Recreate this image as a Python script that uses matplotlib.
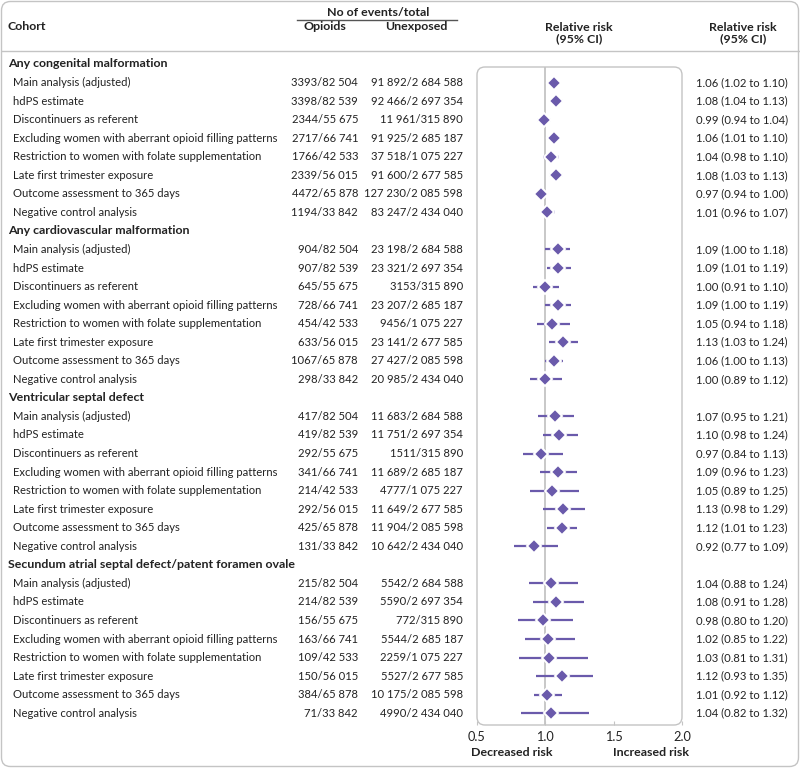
import matplotlib
matplotlib.use("Agg")
import matplotlib.pyplot as plt
from matplotlib import font_manager, transforms
from matplotlib.patches import FancyBboxPatch
from matplotlib.lines import Line2D

# ---------------- data ----------------
outcomes = [
    "Any congenital malformation",
    "Any cardiovascular malformation",
    "Ventricular septal defect",
    "Secundum atrial septal defect/patent foramen ovale",
]
analyses = [
    "Main analysis (adjusted)",
    "hdPS estimate",
    "Discontinuers as referent",
    "Excluding women with aberrant opioid filling patterns",
    "Restriction to women with folate supplementation",
    "Late first trimester exposure",
    "Outcome assessment to 365 days",
    "Negative control analysis",
]
opioids_events = [
    ["3393/82 504", "3398/82 539", "2344/55 675", "2717/66 741", "1766/42 533", "2339/56 015", "4472/65 878", "1194/33 842"],
    ["904/82 504", "907/82 539", "645/55 675", "728/66 741", "454/42 533", "633/56 015", "1067/65 878", "298/33 842"],
    ["417/82 504", "419/82 539", "292/55 675", "341/66 741", "214/42 533", "292/56 015", "425/65 878", "131/33 842"],
    ["215/82 504", "214/82 539", "156/55 675", "163/66 741", "109/42 533", "150/56 015", "384/65 878", "71/33 842"],
]
unexposed_events = [
    ["91 892/2 684 588", "92 466/2 697 354", "11 961/315 890", "91 925/2 685 187", "37 518/1 075 227", "91 600/2 677 585", "127 230/2 085 598", "83 247/2 434 040"],
    ["23 198/2 684 588", "23 321/2 697 354", "3153/315 890", "23 207/2 685 187", "9456/1 075 227", "23 141/2 677 585", "27 427/2 085 598", "20 985/2 434 040"],
    ["11 683/2 684 588", "11 751/2 697 354", "1511/315 890", "11 689/2 685 187", "4777/1 075 227", "11 649/2 677 585", "11 904/2 085 598", "10 642/2 434 040"],
    ["5542/2 684 588", "5590/2 697 354", "772/315 890", "5544/2 685 187", "2259/1 075 227", "5527/2 677 585", "10 175/2 085 598", "4990/2 434 040"],
]
rr = [
    [1.06, 1.08, 0.99, 1.06, 1.04, 1.08, 0.97, 1.01],
    [1.09, 1.09, 1.00, 1.09, 1.05, 1.13, 1.06, 1.00],
    [1.07, 1.10, 0.97, 1.09, 1.05, 1.13, 1.12, 0.92],
    [1.04, 1.08, 0.98, 1.02, 1.03, 1.12, 1.01, 1.04],
]
ci_low = [
    [1.02, 1.04, 0.94, 1.01, 0.98, 1.03, 0.94, 0.96],
    [1.00, 1.01, 0.91, 1.00, 0.94, 1.03, 1.00, 0.89],
    [0.95, 0.98, 0.84, 0.96, 0.89, 0.98, 1.01, 0.77],
    [0.88, 0.91, 0.80, 0.85, 0.81, 0.93, 0.92, 0.82],
]
ci_high = [
    [1.10, 1.13, 1.04, 1.10, 1.10, 1.13, 1.00, 1.07],
    [1.18, 1.19, 1.10, 1.19, 1.18, 1.24, 1.13, 1.12],
    [1.21, 1.24, 1.13, 1.23, 1.25, 1.29, 1.23, 1.09],
    [1.24, 1.28, 1.20, 1.22, 1.31, 1.35, 1.12, 1.32],
]
x_ticks = [0.5, 1.0, 1.5, 2.0]
x_tick_labels = ["0.5", "1.0", "1.5", "2.0"]

# ---------------- style ----------------
def pick_font():
    for f in ["Liberation Sans Narrow", "Lato", "DejaVu Sans"]:
        try:
            font_manager.findfont(font_manager.FontProperties(family=f), fallback_to_default=False)
            return f
        except Exception:
            pass
    return "DejaVu Sans"

FONT = pick_font()
plt.rcParams["font.family"] = [FONT, "DejaVu Sans"]
FS = 8.15
FSB = 8.9
TXT = "#222222"
PURPLE = "#6a5aab"
GRID = "#c4c4c4"

W, H = 800, 768
fig = plt.figure(figsize=(W / 100, H / 100), dpi=100)
fig.patch.set_facecolor("white")

def fx(px):
    return px / W

def fy(py):
    return 1 - py / H

# row layout (row index units)
ROW0_PX = 64.0
STEP_PX = 18.55
BOX_L, BOX_R, BOX_T, BOX_B = 477, 682, 67, 725

ax = fig.add_axes([fx(BOX_L), fy(BOX_B), (BOX_R - BOX_L) / W, (BOX_B - BOX_T) / H])
ax.set_xlim(x_ticks[0], x_ticks[-1])
ax.set_ylim((BOX_B - ROW0_PX) / STEP_PX, (BOX_T - ROW0_PX) / STEP_PX)
ax.patch.set_visible(False)
for s in ax.spines.values():
    s.set_visible(False)
ax.set_yticks([])
ax.set_xticks(x_ticks)
ax.set_xticklabels(x_tick_labels, fontsize=9.2, color=TXT)
ax.tick_params(axis="x", length=3, color=GRID, pad=4, direction="in")

ax.axvline(1.0, color=GRID, lw=1.3, zorder=1)

# rounded box around forest panel
box = FancyBboxPatch((BOX_L, H - BOX_B), BOX_R - BOX_L, BOX_B - BOX_T,
                     boxstyle="round,pad=0,rounding_size=8",
                     transform=transforms.IdentityTransform(),
                     facecolor="none", edgecolor=GRID, lw=1.0)
fig.add_artist(box)

# outer border
outer = FancyBboxPatch((1.5, 1.5), W - 3, H - 3,
                       boxstyle="round,pad=0,rounding_size=9",
                       transform=transforms.IdentityTransform(),
                       facecolor="none", edgecolor=GRID, lw=1.0)
fig.add_artist(outer)

# header
fig.text(fx(8), fy(27), "Cohort", fontsize=FSB, fontweight="bold", color=TXT, va="center", ha="left")
fig.text(fx(378), fy(12.5), "No of events/total", fontsize=FSB, fontweight="bold", color=TXT, va="center", ha="center")
fig.add_artist(Line2D([fx(297), fx(457)], [fy(19.5), fy(19.5)], color="#555555", lw=1.0))
fig.text(fx(325), fy(27), "Opioids", fontsize=FSB, fontweight="bold", color=TXT, va="center", ha="center")
fig.text(fx(416), fy(27), "Unexposed", fontsize=FSB, fontweight="bold", color=TXT, va="center", ha="center")
fig.text(fx(579), fy(33), "Relative risk\n(95% CI)", fontsize=FSB, fontweight="bold", color=TXT,
         va="center", ha="center", linespacing=1.1)
fig.text(fx(743), fy(33), "Relative risk\n(95% CI)", fontsize=FSB, fontweight="bold", color=TXT,
         va="center", ha="center", linespacing=1.1)
fig.add_artist(Line2D([fx(1.5), fx(W - 1.5)], [fy(51), fy(51)], color=GRID, lw=1.0))

# rows
tr = transforms.blended_transform_factory(fig.transFigure, ax.transData)
row = 0
for g, outcome in enumerate(outcomes):
    fig.text(fx(8), row, outcome, transform=tr, fontsize=FSB, fontweight="bold",
             color=TXT, va="center", ha="left")
    row += 1
    for i, lab in enumerate(analyses):
        fig.text(fx(13), row, lab, transform=tr, fontsize=FS, color=TXT, va="center", ha="left")
        fig.text(fx(358), row, opioids_events[g][i], transform=tr, fontsize=FS, color=TXT,
                 va="center", ha="right")
        fig.text(fx(463), row, unexposed_events[g][i], transform=tr, fontsize=FS, color=TXT,
                 va="center", ha="right")
        fig.text(fx(742), row, f"{rr[g][i]:.2f} ({ci_low[g][i]:.2f} to {ci_high[g][i]:.2f})",
                 transform=tr, fontsize=FS, color=TXT, va="center", ha="center")
        ax.hlines(row, ci_low[g][i], ci_high[g][i], color=PURPLE, lw=1.6, zorder=2)
        ax.plot(rr[g][i], row, marker="D", ms=7, mfc=PURPLE, mec="white", mew=1.4, zorder=3)
        row += 1

fig.text(fx(471), fy(753), "Decreased risk", fontsize=FSB, fontweight="bold", color=TXT, va="center", ha="left")
fig.text(fx(689), fy(753), "Increased risk", fontsize=FSB, fontweight="bold", color=TXT, va="center", ha="right")

fig.savefig("out.png", dpi=100)
